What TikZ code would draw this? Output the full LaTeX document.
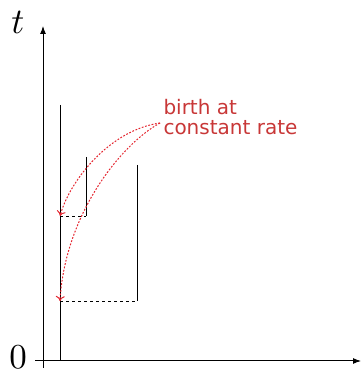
\documentclass[tikz,border=0pt]{standalone}
\usepackage{amsmath, amssymb}
\usepackage{xcolor}
\usepackage{fontspec}
\usepackage{tikz}
\usetikzlibrary{calc, positioning, arrows.meta}
\newfontfamily\birthfont{DejaVu Sans}
\definecolor{birthred}{RGB}{200,55,55}
\definecolor{arrowred}{RGB}{228,35,45}

\begin{document}
\begin{tikzpicture}[>={Latex[length=8pt,width=6pt]}, x=10pt, y=10pt, line width=1pt]
    \useasboundingbox (0,0) rectangle (36.2,37.5);
    % Vẽ hệ trục
    \draw[->] (3.5,1.4) -- (36.1,1.4);
    \draw[->] (4.3,0.7) -- (4.3,34.9);
    \node[scale=3.6, inner sep=0] (t) at (1.8,35.3) {$t$};
    \node[scale=3.5, inner sep=0] (zero) at (1.8,1.75) {$0$};

    % Các đoạn thẳng
    \coordinate (b1) at (6.0,15.9);
    \coordinate (b2) at (6.0,7.4);
    \draw (6.0,27.0) -- (6.0,1.4);
    \draw (8.6,21.8) -- (8.6,15.9);
    \draw (13.7,21.0) -- (13.7,7.4);
    \draw[dashed, line width=0.9pt] (b1) -- (8.6,15.9);
    \draw[dashed, line width=0.9pt] (b2) -- (13.7,7.4);

    % Nhãn và mũi tên
    \node[anchor=north west, inner sep=0, align=left, text=birthred,
          font=\birthfont\fontsize{20}{20}\selectfont] (lbl) at (16.3,27.6)
          {birth at\\constant rate};
    \coordinate (src) at (16.0,25.2);
    \draw[arrowred, -{To[length=5pt,width=9pt]}, line width=1pt, dash pattern=on 1.8pt off 1.6pt]
        (src) .. controls (11,24.5) and (7,19.5) .. (b1);
    \draw[arrowred, -{To[length=5pt,width=9pt]}, line width=1pt, dash pattern=on 1.8pt off 1.6pt]
        (src) .. controls (12,23) and (6.5,16) .. (b2);
\end{tikzpicture}
\end{document}
